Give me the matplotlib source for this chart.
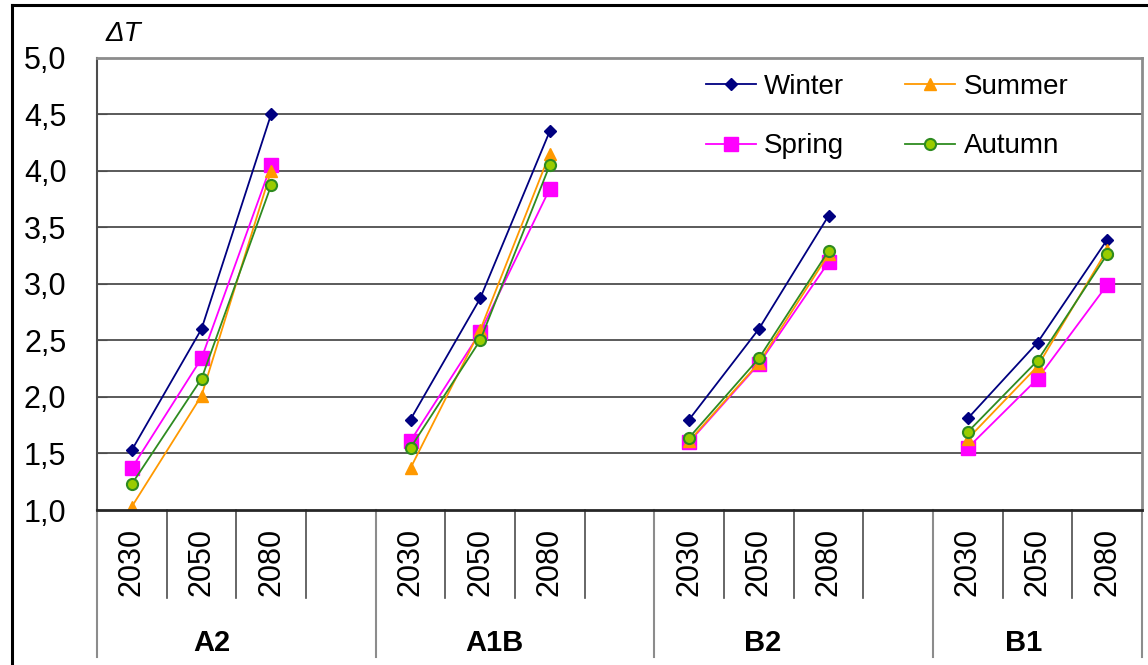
import numpy as np
import matplotlib.pyplot as plt
import matplotlib.transforms as mtrans
from matplotlib.lines import Line2D

plt.rcParams['font.family'] = ['Liberation Sans', 'DejaVu Sans']

# data: one list per season, 3 values (2030, 2050, 2080) per scenario
scenarios = ['A2', 'A1B', 'B2', 'B1']
years = ['2030', '2050', '2080']

winter = {'A2': [1.53, 2.60, 4.50], 'A1B': [1.80, 2.87, 4.35],
          'B2': [1.80, 2.60, 3.60], 'B1': [1.81, 2.48, 3.39]}
spring = {'A2': [1.37, 2.34, 4.05], 'A1B': [1.61, 2.57, 3.84],
          'B2': [1.60, 2.29, 3.19], 'B1': [1.55, 2.16, 2.99]}
summer = {'A2': [1.03, 2.01, 4.00], 'A1B': [1.37, 2.59, 4.15],
          'B2': [1.61, 2.30, 3.26], 'B1': [1.63, 2.27, 3.30]}
autumn = {'A2': [1.23, 2.16, 3.87], 'A1B': [1.55, 2.50, 4.05],
          'B2': [1.64, 2.34, 3.29], 'B1': [1.69, 2.32, 3.26]}

# styles
series = [
    ('Winter', winter, dict(color='#000080', marker='D', markersize=6.5,
                            markerfacecolor='#000080', markeredgecolor='#000080')),
    ('Spring', spring, dict(color='#FF00FF', marker='s', markersize=10,
                            markerfacecolor='#FF00FF', markeredgecolor='#FF00FF')),
    ('Summer', summer, dict(color='#FF9900', marker='^', markersize=9,
                            markerfacecolor='#FF9900', markeredgecolor='#FF9900')),
    ('Autumn', autumn, dict(color='#2E8B20', marker='o', markersize=8,
                            markerfacecolor='#99CC00', markeredgecolor='#2E8B20',
                            markeredgewidth=1.5)),
]

fig = plt.figure(figsize=(11.48, 6.65), dpi=100)
ax = fig.add_axes([97 / 1148, 1 - 510 / 665, (1142 - 97) / 1148, (510 - 57.5) / 665])

# slot start of each scenario (3 years + one empty slot between groups)
starts = [0, 4, 8, 12]

handles = []
for name, d, st in series:
    for s, sc in zip(starts, scenarios):
        ax.plot(np.arange(s, s + 3), d[sc], linewidth=1.3, **st)
    handles.append(Line2D([], [], linewidth=1.3, label=name, **st))

ax.set_xlim(-0.5, 14.5)
ax.set_ylim(1.0, 5.0)
ax.set_yticks(np.arange(1.0, 5.01, 0.5))
ax.set_yticklabels(['{:.1f}'.format(v).replace('.', ',') for v in np.arange(1.0, 5.01, 0.5)],
                   fontsize=22)
ax.tick_params(axis='y', direction='in', length=7, color='0.3', pad=22)
ax.set_xticks([])
for v in np.arange(1.5, 5.01, 0.5):
    ax.axhline(v, color='0.3', linewidth=1.3, zorder=0.5)

for side in ['top', 'right']:
    ax.spines[side].set_color('0.55')
    ax.spines[side].set_linewidth(2)
ax.spines['left'].set_color('0.3')
ax.spines['left'].set_linewidth(1.5)
ax.spines['bottom'].set_color('0.15')
ax.spines['bottom'].set_linewidth(2)

# category "table" below the axis
tr = mtrans.blended_transform_factory(ax.transData, ax.transAxes)
yr_bot = (510 - 598) / 452.5
grp_bot = (510 - 657) / 452.5
for s in starts:
    for k in range(1, 4):
        if s + k - 0.5 < 14.5:
            ax.plot([s + k - 0.5] * 2, [0, yr_bot], color='0.3', linewidth=1.2,
                    transform=tr, clip_on=False)
    for k, yl in enumerate(years):
        ax.text(s + k, (510 - 562) / 452.5, yl, rotation=90, ha='center', va='center',
                fontsize=22, transform=tr)
for xb in [-0.5, 3.5, 7.5, 11.5, 14.5]:
    ax.plot([xb, xb], [0, grp_bot], color='0.55', linewidth=1.5, transform=tr, clip_on=False)
for s, sc, dx in zip(starts, scenarios, [1.15, 1.2, 1.05, 0.8]):
    ax.text(s + dx, (510 - 643) / 452.5, sc, ha='center', va='center', fontsize=21,
            fontweight='bold', transform=tr)

ax.text(-0.5 + 9 / 69.67, (510 - 41) / 452.5, 'ΔT', fontsize=20, style='italic',
        transform=tr, ha='left', va='baseline')

ax.legend(handles=handles, ncol=2, frameon=False, fontsize=20,
          loc='upper left', bbox_to_anchor=(692 / 1148, 1 - 60 / 665),
          bbox_transform=fig.transFigure, borderpad=0, handlelength=1.8,
          handletextpad=0.3, columnspacing=2.2, labelspacing=1.2)

# outer frame of the picture
fig.add_artist(Line2D([12 / 1148, 12 / 1148], [0, 1 - 5 / 665], color='black', linewidth=2.2))
fig.add_artist(Line2D([12 / 1148, 1], [1 - 5 / 665, 1 - 5 / 665], color='black', linewidth=2.2))

fig.savefig('out.png', dpi=100)
